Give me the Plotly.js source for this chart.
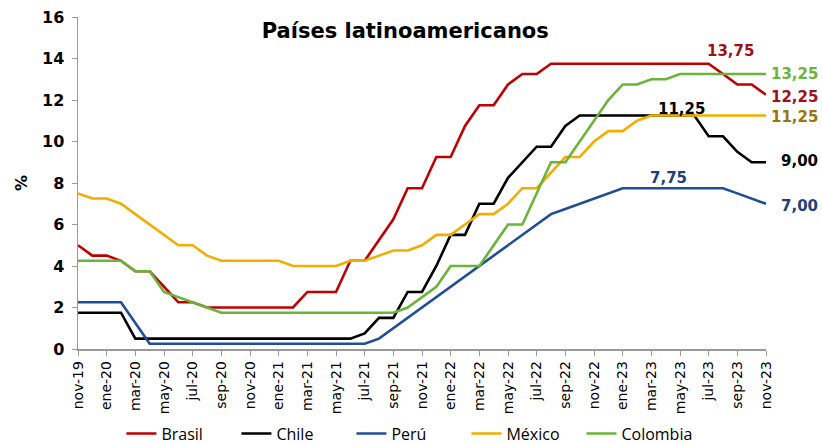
<!DOCTYPE html>
<html><head><meta charset="utf-8">
<script src="https://cdn.plot.ly/plotly-3.0.1.min.js"></script>
<style>html,body{margin:0;padding:0;background:#fff}#chart{width:822px;height:444px}</style>
</head><body><div id="chart"></div>
<script>
const months = ["nov-19","dic-19","ene-20","feb-20","mar-20","abr-20","may-20","jun-20","jul-20","ago-20","sep-20","oct-20",
"nov-20","dic-20","ene-21","feb-21","mar-21","abr-21","may-21","jun-21","jul-21","ago-21","sep-21","oct-21",
"nov-21","dic-21","ene-22","feb-22","mar-22","abr-22","may-22","jun-22","jul-22","ago-22","sep-22","oct-22",
"nov-22","dic-22","ene-23","feb-23","mar-23","abr-23","may-23","jun-23","jul-23","ago-23","sep-23","oct-23","nov-23"];

const brasil = [5.00,4.50,4.50,4.25,3.75,3.75,3.00,2.25,2.25,2.00,2.00,2.00,
2.00,2.00,2.00,2.00,2.75,2.75,2.75,4.25,4.25,5.25,6.25,7.75,
7.75,9.25,9.25,10.75,11.75,11.75,12.75,13.25,13.25,13.75,13.75,13.75,
13.75,13.75,13.75,13.75,13.75,13.75,13.75,13.75,13.75,13.25,12.75,12.75,12.25];

const chile = [1.75,1.75,1.75,1.75,0.50,0.50,0.50,0.50,0.50,0.50,0.50,0.50,
0.50,0.50,0.50,0.50,0.50,0.50,0.50,0.50,0.75,1.50,1.50,2.75,
2.75,4.00,5.50,5.50,7.00,7.00,8.25,9.00,9.75,9.75,10.75,11.25,
11.25,11.25,11.25,11.25,11.25,11.25,11.25,11.25,10.25,10.25,9.50,9.00,9.00];

const peru = [2.25,2.25,2.25,2.25,1.25,0.25,0.25,0.25,0.25,0.25,0.25,0.25,
0.25,0.25,0.25,0.25,0.25,0.25,0.25,0.25,0.25,0.50,1.00,1.50,
2.00,2.50,3.00,3.50,4.00,4.50,5.00,5.50,6.00,6.50,6.75,7.00,
7.25,7.50,7.75,7.75,7.75,7.75,7.75,7.75,7.75,7.75,7.50,7.25,7.00];

const mexico = [7.50,7.25,7.25,7.00,6.50,6.00,5.50,5.00,5.00,4.50,4.25,4.25,
4.25,4.25,4.25,4.00,4.00,4.00,4.00,4.25,4.25,4.50,4.75,4.75,
5.00,5.50,5.50,6.00,6.50,6.50,7.00,7.75,7.75,8.50,9.25,9.25,
10.00,10.50,10.50,11.00,11.25,11.25,11.25,11.25,11.25,11.25,11.25,11.25,11.25];

const colombia = [4.25,4.25,4.25,4.25,3.75,3.75,2.75,2.50,2.25,2.00,1.75,1.75,
1.75,1.75,1.75,1.75,1.75,1.75,1.75,1.75,1.75,1.75,1.75,2.00,
2.50,3.00,4.00,4.00,4.00,5.00,6.00,6.00,7.50,9.00,9.00,10.00,
11.00,12.00,12.75,12.75,13.00,13.00,13.25,13.25,13.25,13.25,13.25,13.25,13.25];

const names = ["Brasil","Chile","Perú","México","Colombia"];
const values = [brasil, chile, peru, mexico, colombia];
const colors = ["#C00000","#000000","#1F4E96","#F2AE00","#6CB33A"];
const tickMonths = months.filter((m,i)=>i%2===0);

const traces = names.map((n,k)=>({
  type:'scatter', mode:'lines', name:n, x:months, y:values[k],
  line:{color:colors[k], width:2.6}, hoverinfo:'skip'
}));

const lf = {family:'DejaVu Sans', size:15, weight:'bold'};
const last = months.length-1;
const annotations = [
  {x:45.5, y:13.75, text:'13,75', yshift:13, font:Object.assign({},lf,{color:'#A0101A'})},
  {x:last, y:13.25, text:'13,25', xanchor:'right', xshift:54, font:Object.assign({},lf,{color:'#6CB33A'})},
  {x:last, y:12.25, text:'12,25', xanchor:'right', xshift:54, yshift:-2, font:Object.assign({},lf,{color:'#A0101A'})},
  {x:42.1, y:11.25, text:'11,25', yshift:7, font:Object.assign({},lf,{color:'#000000'})},
  {x:last, y:11.25, text:'11,25', xanchor:'right', xshift:54, yshift:-1, font:Object.assign({},lf,{color:'#9A7608'})},
  {x:last, y:9.00, text:'9,00', xanchor:'right', xshift:54, yshift:1, font:Object.assign({},lf,{color:'#000000'})},
  {x:41.2, y:7.75, text:'7,75', yshift:10, font:Object.assign({},lf,{color:'#1F3E7A'})},
  {x:last, y:7.00, text:'7,00', xanchor:'right', xshift:54, yshift:-2, font:Object.assign({},lf,{color:'#1F3E7A'})}
].map(a=>Object.assign({xref:'x', yref:'y', showarrow:false, yanchor:'middle'}, a));

const layout = {
  width:822, height:444,
  margin:{l:78, r:56, t:17, b:95, pad:0, autoexpand:false},
  paper_bgcolor:'#ffffff', plot_bgcolor:'#ffffff',
  font:{family:'DejaVu Sans', color:'#000000'},
  title:{text:'Países latinoamericanos', font:{size:21, weight:'bold'}, xref:'container', x:0.493, xanchor:'center', yref:'container', y:0.932, yanchor:'middle'},
  showlegend:true,
  legend:{orientation:'h', xref:'paper', x:0.481, xanchor:'center', yref:'paper', y:-0.255, yanchor:'middle',
    font:{family:'Open Sans', size:16, color:'#000'}, itemwidth:30, tracegroupgap:0,
    entrywidth:70, entrywidthmode:'pixels'},
  xaxis:{type:'category', range:[0,last], tickmode:'array', tickvals:tickMonths, ticktext:tickMonths,
    tickangle:-90, tickfont:{family:'DejaVu Sans', size:14, color:'#000'},
    ticks:'outside', ticklen:5, tickcolor:'#999', tickwidth:1, automargin:false,
    showline:true, linecolor:'#999', linewidth:1.5, showgrid:false, zeroline:false, fixedrange:true},
  yaxis:{range:[0,16], dtick:2, tick0:0, tickfont:{family:'DejaVu Sans', size:16, weight:'bold', color:'#000'},
    ticks:'outside', ticklen:5, tickcolor:'#999', tickwidth:1, ticklabelstandoff:4, automargin:false,
    showline:true, linecolor:'#999', linewidth:1.5, showgrid:false, zeroline:false, fixedrange:true,
    title:{text:'%', font:{family:'DejaVu Sans', size:16, weight:'bold'}, standoff:10}},
  annotations:annotations
};
Plotly.newPlot('chart', traces, layout, {staticPlot:true, displayModeBar:false});
</script></body></html>
